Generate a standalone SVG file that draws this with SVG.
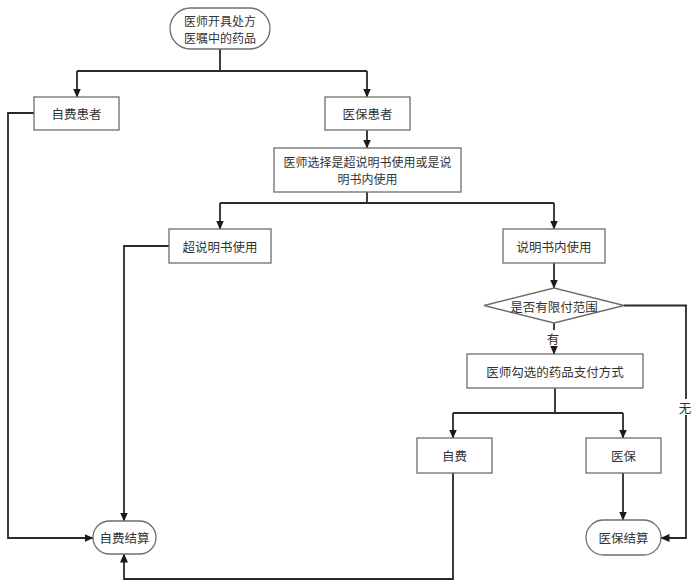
<svg xmlns="http://www.w3.org/2000/svg" width="693" height="582" viewBox="0 0 693 582">
<style>
.box{fill:#fff;stroke:#6e6e6e;stroke-width:1.3}
.t{font-family:"Noto Sans CJK SC","Noto Sans CJK TC",sans-serif;font-size:12.5px;fill:#333;text-anchor:middle;dominant-baseline:central}
.s{font-size:12px}
.c{fill:none;stroke:#2a2a2a;stroke-width:1.8}
.a{marker-end:url(#arr)}
</style>
<defs>
<marker id="arr" markerUnits="userSpaceOnUse" markerWidth="9" markerHeight="8" refX="8.5" refY="4" orient="auto">
<path d="M0,0 L9,4 L0,8 z" fill="#1a1a1a"/>
</marker>
</defs>
<rect width="693" height="582" fill="#fff"/>
<g id="connectors">
<path class="c" d="M220,49 V71"/>
<path class="c" d="M77,71 H367"/>
<path class="c a" d="M77,71 V97"/>
<path class="c a" d="M367,71 V97"/>
<path class="c a" d="M367,130 V148"/>
<path class="c" d="M367,192 V203"/>
<path class="c" d="M220,203 H554"/>
<path class="c a" d="M220,203 V229"/>
<path class="c a" d="M554,203 V229"/>
<path class="c a" d="M554,263 V288"/>
<path class="c a" d="M554,323 V354"/>
<path class="c" d="M555,388 V413"/>
<path class="c" d="M453,413 H623"/>
<path class="c a" d="M453,413 V438"/>
<path class="c a" d="M623,413 V438"/>
<path class="c a" d="M453,473 V579 H124 V554"/>
<path class="c a" d="M623,473 V520"/>
<path class="c a" d="M624,305.5 H686 V538 H661"/>
<path class="c a" d="M34,113 H8 V538 H93"/>
<path class="c a" d="M169,246 H124 V521"/>
<rect x="546" y="330" width="14" height="16" fill="#fff"/>
<text class="t" x="553" y="338">有</text>
<rect x="678" y="399" width="14" height="16" fill="#fff"/>
<text class="t" x="685" y="407">无</text>
</g>
<g id="start">
<rect class="box" x="170" y="8" width="100" height="41" rx="20.5"/>
<text class="t s" x="220" y="20.5">医师开具处方</text>
<text class="t s" x="220" y="37">医嘱中的药品</text>
</g>
<g id="zifei-patient">
<rect class="box" x="34" y="97" width="85" height="33"/>
<text class="t" x="76.5" y="113.5">自费患者</text>
</g>
<g id="yibao-patient">
<rect class="box" x="325" y="97" width="85" height="33"/>
<text class="t" x="367.5" y="113.5">医保患者</text>
</g>
<g id="choose">
<rect class="box" x="274" y="148" width="187" height="44"/>
<text class="t s" x="367.5" y="161.5">医师选择是超说明书使用或是说</text>
<text class="t s" x="367.5" y="178">明书内使用</text>
</g>
<g id="off-label">
<rect class="box" x="169" y="229" width="102" height="34"/>
<text class="t" x="220" y="246">超说明书使用</text>
</g>
<g id="on-label">
<rect class="box" x="503" y="229" width="102" height="34"/>
<text class="t" x="554" y="246">说明书内使用</text>
</g>
<g id="decision">
<polygon class="box" points="484,305.5 554,288 624,305.5 554,323"/>
<text class="t" x="554" y="306">是否有限付范围</text>
</g>
<g id="pay-select">
<rect class="box" x="467" y="354" width="176" height="34"/>
<text class="t" x="555" y="371">医师勾选的药品支付方式</text>
</g>
<g id="zifei">
<rect class="box" x="417" y="438" width="75" height="35"/>
<text class="t" x="454.5" y="455.5">自费</text>
</g>
<g id="yibao">
<rect class="box" x="586" y="438" width="75" height="35"/>
<text class="t" x="623.5" y="455.5">医保</text>
</g>
<g id="zifei-settle">
<rect class="box" x="93" y="521" width="63" height="33" rx="16.5"/>
<text class="t" x="124.5" y="537.5">自费结算</text>
</g>
<g id="yibao-settle">
<rect class="box" x="586" y="520" width="75" height="35" rx="17.5"/>
<text class="t" x="623.5" y="537.5">医保结算</text>
</g>
</svg>
